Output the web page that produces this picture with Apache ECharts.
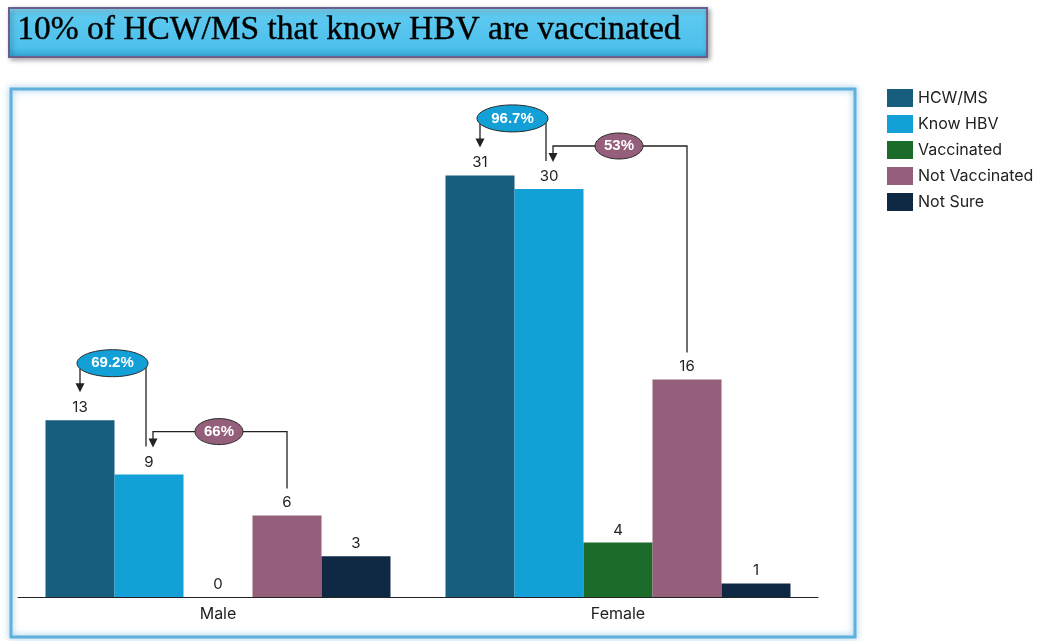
<!DOCTYPE html>
<html>
<head>
<meta charset="utf-8">
<script src="https://cdn.jsdelivr.net/npm/echarts@6/dist/echarts.min.js"></script>
<style>
html,body{margin:0;padding:0;background:#fff;}
#chart{width:1039px;height:641px;}
</style>
</head>
<body>
<div id="chart"></div>
<script>
const titleText = '10% of HCW/MS that know HBV are vaccinated';
const categories = ['Male', 'Female'];
const seriesNames = ['HCW/MS', 'Know HBV', 'Vaccinated', 'Not Vaccinated', 'Not Sure'];
const hcw = [13, 31];
const knowHbv = [9, 30];
const vaccinated = [0, 4];
const notVaccinated = [6, 16];
const notSure = [3, 1];
const knowPct = ['69.2%', '96.7%'];
const notVaccPct = ['66%', '53%'];
const colors = ['#175d7e', '#12a0d7', '#1b6b2a', '#955f7b', '#0f2843'];

const allValues = [hcw, knowHbv, vaccinated, notVaccinated, notSure];
const GAP = 0.1375;
const FONT = 'Inter, "Noto Sans", Arial, sans-serif';

const chart = echarts.init(document.getElementById('chart'), null, {renderer: 'canvas'});

const staticGraphics = [
  {
    type: 'rect', z: 1,
    shape: {x: 11, y: 89, width: 844, height: 548},
    style: {fill: null, stroke: '#5fb0dc', lineWidth: 3, shadowBlur: 6, shadowColor: 'rgba(80,160,215,0.7)'}
  },
  {
    type: 'rect', z: 1,
    shape: {x: 9, y: 8, width: 698, height: 49},
    style: {
      fill: new echarts.graphic.LinearGradient(0, 0, 0, 1, [
        {offset: 0, color: '#8fdcf7'}, {offset: 0.15, color: '#5ec9f0'},
        {offset: 0.8, color: '#4cc0ec'}, {offset: 1, color: '#31a2d3'}
      ]),
      stroke: '#6b5d8c', lineWidth: 2, shadowBlur: 5, shadowOffsetX: 2, shadowOffsetY: 2, shadowColor: 'rgba(0,0,0,0.35)'
    }
  },
  {
    type: 'text', z: 2, left: 17, top: 13,
    style: {text: titleText, font: '33.5px "Liberation Serif", "Times New Roman", serif', fill: '#000',
      stroke: '#000', lineWidth: 0.4}
  }
];

chart.setOption({
  animation: false,
  color: colors,
  grid: {left: 18, right: 221, top: 121, bottom: 44},
  legend: {
    orient: 'vertical', left: 882, top: 84,
    itemWidth: 26, itemHeight: 18, itemGap: 8, icon: 'rect',
    textStyle: {fontSize: 16, color: '#222', fontFamily: FONT},
    data: seriesNames
  },
  xAxis: {
    type: 'category', data: categories,
    axisLine: {lineStyle: {color: '#222', width: 1}},
    axisTick: {show: false},
    axisLabel: {fontSize: 16, color: '#222', fontFamily: FONT, margin: 9}
  },
  yAxis: {type: 'value', min: 0, max: 35, show: false, splitLine: {show: false}},
  series: seriesNames.map((n, i) => ({
    name: n, type: 'bar', data: allValues[i],
    barGap: '0%', barCategoryGap: (GAP * 100) + '%',
    label: {show: true, position: 'top', distance: 5, fontSize: 15, color: '#222', fontFamily: FONT},
    z: 3
  })),
  graphic: staticGraphics
});

function arrowHead(x, y, color) {
  return {type: 'polygon', z: 20, shape: {points: [[x - 4.5, y - 9], [x + 4.5, y - 9], [x, y]]}, style: {fill: color}};
}
function line(points) {
  return {type: 'polyline', z: 20, shape: {points: points}, style: {stroke: '#222', lineWidth: 1.3, fill: null}};
}
function bubble(cx, cy, rx, ry, fill, text) {
  return [
    {type: 'ellipse', z: 21, shape: {cx: cx, cy: cy, rx: rx, ry: ry}, style: {fill: fill, stroke: '#2a2a2a', lineWidth: 1}},
    {type: 'text', z: 22, style: {text: text, x: cx, y: cy, align: 'center', verticalAlign: 'middle',
      font: 'bold 15px Arial, "Liberation Sans", sans-serif', fill: '#fff'}}
  ];
}

const p0 = chart.convertToPixel({xAxisIndex: 0}, 0);
const p1 = chart.convertToPixel({xAxisIndex: 0}, 1);
const band = p1 - p0;
const barW = band * (1 - GAP) / 5;
const ann = [];
categories.forEach((c, i) => {
  const cx = chart.convertToPixel({xAxisIndex: 0}, i);
  const xc = s => cx + (s - 2) * barW;
  const yv = v => chart.convertToPixel({yAxisIndex: 0}, v);
  // first bubble: HCW -> Know HBV
  const e1x = (xc(0) + xc(1)) / 2 - 2, e1y = yv(hcw[i]) - 57;
  const tip1 = yv(hcw[i]) - 28;
  ann.push(line([[xc(0), e1y], [xc(0), tip1 - 8]]));
  ann.push(arrowHead(xc(0), tip1, '#222'));
  ann.push(line([[xc(1) - 3, e1y], [xc(1) - 3, yv(knowHbv[i]) - 28]]));
  ann.push(...bubble(e1x, e1y, 35.5, 13.5, '#12a0d7', knowPct[i]));
  // second bubble: Know HBV -> Not Vaccinated
  const e2x = (xc(1) + xc(3)) / 2 + 1, e2y = yv(knowHbv[i]) - 43;
  const tip2 = yv(knowHbv[i]) - 27;
  ann.push(line([[e2x, e2y], [xc(1) + 4, e2y], [xc(1) + 4, tip2 - 8]]));
  ann.push(arrowHead(xc(1) + 4, tip2, '#222'));
  ann.push(line([[e2x, e2y], [xc(3), e2y], [xc(3), yv(notVaccinated[i]) - 27]]));
  ann.push(...bubble(e2x, e2y, 24, 13, '#955f7b', notVaccPct[i]));
});

chart.setOption({graphic: staticGraphics.concat(ann)}, {replaceMerge: ['graphic']});
</script>
</body>
</html>
